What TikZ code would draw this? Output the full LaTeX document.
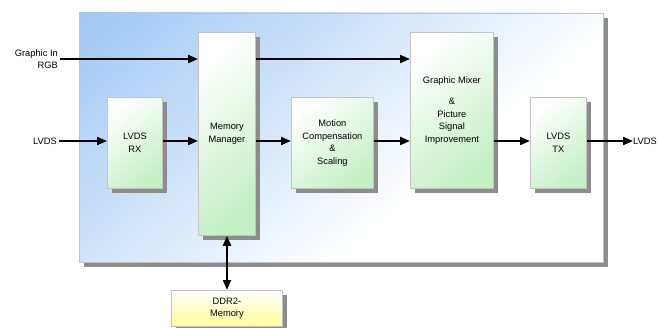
\documentclass[tikz,border=0pt]{standalone}
\usepackage{fontspec}
\setmainfont{Liberation Sans}
\usetikzlibrary{arrows.meta,shadows}
\definecolor{bgblue}{RGB}{160,200,245}
\definecolor{blkgreen}{RGB}{196,240,196}
\definecolor{ddryellow}{RGB}{255,255,150}
\definecolor{brd}{RGB}{195,195,195}
\definecolor{shd}{RGB}{140,140,140}
\pgfdeclareverticalshading{bgsh}{100bp}{color(0bp)=(white); color(38bp)=(white); color(62bp)=(bgblue!55); color(85bp)=(bgblue); color(100bp)=(bgblue)}
\tikzset{
  blk/.style={draw=brd, line width=0.8pt, shading=axis, top color=white, bottom color=blkgreen,
    shading angle=40, anchor=north west, inner sep=0pt, align=center,
    general shadow={fill=shd, shadow xshift=4.5pt, shadow yshift=-4.5pt}},
  ddr/.style={blk, bottom color=ddryellow},
  lbl/.style={inner sep=0pt, align=center},
  conn/.style={line width=2pt, -{Triangle[length=10pt,width=8pt]}},
  bconn/.style={line width=2pt, {Triangle[length=10pt,width=8pt]}-{Triangle[length=10pt,width=8pt]}},
}
\begin{document}
\begin{tikzpicture}[x=1pt,y=-1pt,font=\fontsize{9.3}{12.5}\selectfont]
\useasboundingbox (0,0) rectangle (660,328);
% outer box
\fill[shd] (84,18) rectangle (608,267);
\shade[shading=bgsh, shading angle=40] (79,13) rectangle (603,262);
\draw[brd, line width=0.8pt] (79,13) rectangle (603,262);
% blocks
\node[blk, minimum width=57pt, minimum height=203pt] (mm) at (198,32) {Memory\\Manager};
\node[blk, minimum width=55pt, minimum height=91pt] (rx) at (107,97) {LVDS\\RX};
\node[blk, minimum width=82pt, minimum height=91pt] (mc) at (291,97) {Motion\\Compensation\\\&\\Scaling};
\node[blk, minimum width=83pt, minimum height=156pt] (gm) at (410,32) {Graphic Mixer\\[9pt]\&\\Picture\\Signal\\Improvement};
\node[blk, minimum width=56pt, minimum height=91pt] (tx) at (530,97) {LVDS\\TX};
\node[ddr, minimum width=111pt, minimum height=36pt] (dd) at (171,290) {DDR2-\\Memory};
% outside labels
\node[lbl, anchor=east, align=right] (gin) at (58,59) {Graphic In\\RGB};
\node[lbl, anchor=east] (lin) at (57,141) {LVDS};
\node[lbl, anchor=west] (lout) at (633,141) {LVDS};
% connectors
\draw[conn] (gin.east) ++(2,0) coordinate (g0) -- (g0 -| mm.west);
\draw[conn] (mm.east |- gin.east) -- (gm.west |- gin.east);
\draw[conn] (lin.east) ++(2,0) coordinate (l0) -- (l0 -| rx.west);
\draw[conn] (rx.east |- lin.east) -- (mm.west |- lin.east);
\draw[conn] (mm.east |- lin.east) -- (mc.west |- lin.east);
\draw[conn] (mc.east |- lin.east) -- (gm.west |- lin.east);
\draw[conn] (gm.east |- lin.east) -- (tx.west |- lin.east);
\draw[conn] (tx.east |- lin.east) -- (lout.west);
\draw[bconn] (mm.south -| 227,0) -- (dd.north -| 227,0);
\end{tikzpicture}
\end{document}
